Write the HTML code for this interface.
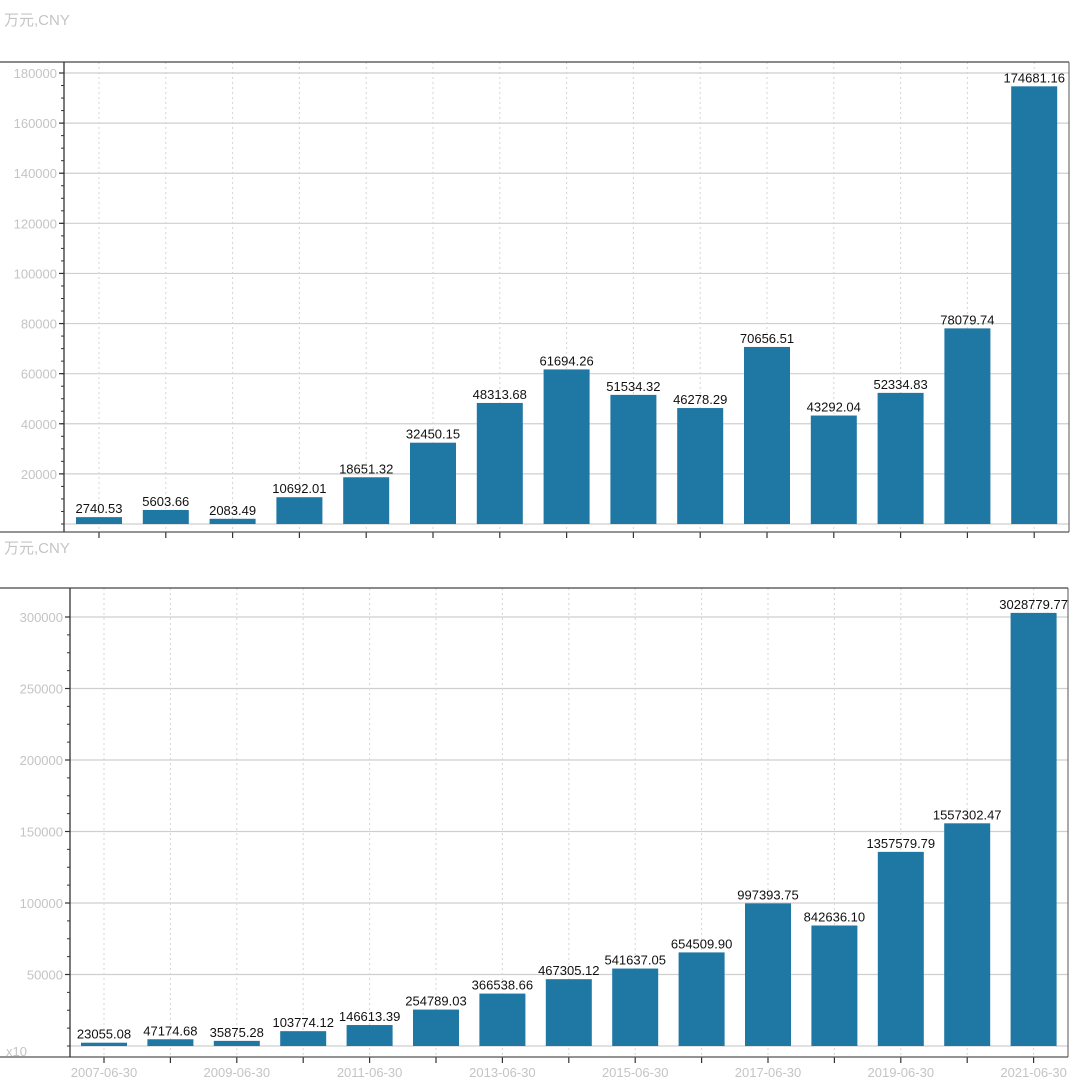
<!DOCTYPE html>
<html><head><meta charset="utf-8">
<style>
html,body{margin:0;padding:0;background:#fff;}
svg{display:block;font-family:"Liberation Sans","Noto Sans CJK SC",sans-serif;}
</style></head>
<body>
<svg id="chart" width="1080" height="1080" viewBox="0 0 1080 1080" xmlns="http://www.w3.org/2000/svg">
<rect x="0" y="0" width="1080" height="1080" fill="#fff"/>
<text x="4" y="25" font-size="15" fill="#c4c4c4">万元,CNY</text>
<text x="4" y="553" font-size="15" fill="#c4c4c4">万元,CNY</text>
<g id="top"></g>
<g id="bottom"></g>
</svg>
<script>
const categories = ["2007-06-30","2008-06-30","2009-06-30","2010-06-30","2011-06-30","2012-06-30","2013-06-30","2014-06-30","2015-06-30","2016-06-30","2017-06-30","2018-06-30","2019-06-30","2020-06-30","2021-06-30"];
const topValues = [2740.53,5603.66,2083.49,10692.01,18651.32,32450.15,48313.68,61694.26,51534.32,46278.29,70656.51,43292.04,52334.83,78079.74,174681.16];
const bottomValues = [23055.08,47174.68,35875.28,103774.12,146613.39,254789.03,366538.66,467305.12,541637.05,654509.90,997393.75,842636.10,1357579.79,1557302.47,3028779.77];
const topTicks = [20000,40000,60000,80000,100000,120000,140000,160000,180000];
const bottomTicks = [50000,100000,150000,200000,250000,300000];
const bottomScaleDivisor = 10;

const NS = "http://www.w3.org/2000/svg";
function mk(parent, tag, attrs){
  const e = document.createElementNS(NS, tag);
  for (const k in attrs) e.setAttribute(k, attrs[k]);
  parent.appendChild(e);
  return e;
}

function drawChart(g, cfg){
  const xScale = i => cfg.x0 + i * cfg.step;
  const yScale = v => cfg.zeroY - (v - 0) * cfg.pxPerUnit;
  // horizontal grid
  cfg.ticks.forEach(t=>{
    const y = yScale(t);
    const l = mk(g,"line",{x1:cfg.left,x2:cfg.right,y1:y,y2:y,stroke:"#cfcfcf","stroke-width":1.2});
    
    
    const tk = mk(g,"line",{x1:cfg.left-5,x2:cfg.left,y1:y,y2:y,stroke:"#333","stroke-width":1.2});
    
    
    const tx = mk(g,"text",{x:cfg.left-7,y:y+5,"text-anchor":"end","font-size":13,fill:"#c4c4c4"});
    tx.textContent = t;
    
    
  });
  // baseline gridline at zero
  const bl = mk(g,"line",{x1:cfg.left,x2:cfg.right,y1:cfg.zeroY,y2:cfg.zeroY,stroke:"#cfcfcf","stroke-width":1.2});
  
  
  // minor ticks
  const minorStep = cfg.ticks[0]/4;
  for (let v = 0; v <= cfg.maxV; v += minorStep){
    const y = yScale(v);
    if (y < cfg.top) break;
    const m = mk(g,"line",{x1:cfg.left-3,x2:cfg.left,y1:y,y2:y,stroke:"#333","stroke-width":1});
    
    
  }
  // vertical grid + x ticks
  categories.forEach((c,i)=>{
    const x = xScale(i);
    const vl = mk(g,"line",{x1:x,x2:x,y1:cfg.top,y2:cfg.bottom,stroke:"#d4d4d4","stroke-width":1,"stroke-dasharray":"2,3"});
    
    
    const tk = mk(g,"line",{x1:x,x2:x,y1:cfg.bottom,y2:cfg.bottom+6,stroke:"#333","stroke-width":1.2});
    
    
    if (cfg.showX && i%2===0){
      const tx = mk(g,"text",{x:x,y:cfg.bottom+20,"text-anchor":"middle","font-size":13,fill:"#c4c4c4"});
      tx.textContent = c;
      
      
    }
  });
  // bars
  cfg.values.forEach((v,i)=>{
    const dv = v / cfg.div;
    const x = xScale(i);
    const y = yScale(dv);
    const r = mk(g,"rect",{x:x-23,y:y,width:46,height:cfg.zeroY-y,fill:"#1f77a4"});
    
    
    const t = mk(g,"text",{x:x,y:y-4,"text-anchor":"middle","font-size":13,fill:"#111"});
    t.textContent = v.toFixed(2);
    
    
  });
  // frame
  const f1 = mk(g,"line",{x1:0,x2:cfg.right,y1:cfg.top,y2:cfg.top,stroke:"#444","stroke-width":1.3});
   
  const f2 = mk(g,"line",{x1:0,x2:cfg.right,y1:cfg.bottom,y2:cfg.bottom,stroke:"#555","stroke-width":1.3});
   
  const f3 = mk(g,"line",{x1:cfg.left,x2:cfg.left,y1:cfg.top,y2:cfg.bottom,stroke:"#333","stroke-width":1.3});
   
  const f4 = mk(g,"line",{x1:cfg.right,x2:cfg.right,y1:cfg.top,y2:cfg.bottom,stroke:"#555","stroke-width":1});
   
}

drawChart(document.getElementById('top'),{
  left:64,right:1069,top:62,bottom:532,zeroY:524,pxPerUnit:451/180000,
  x0:99,step:66.8,ticks:topTicks,values:topValues,div:1,maxV:185000,showX:false
});
drawChart(document.getElementById('bottom'),{
  left:70,right:1068,top:588,bottom:1057,zeroY:1046,pxPerUnit:429/300000,
  x0:104,step:66.4,ticks:bottomTicks,values:bottomValues,div:bottomScaleDivisor,maxV:310000,showX:true
});
const sc = mk(document.getElementById('bottom'),"text",{x:6,y:1056,"font-size":13,fill:"#c4c4c4"});
sc.textContent = "x10";


</script>
</body></html>
